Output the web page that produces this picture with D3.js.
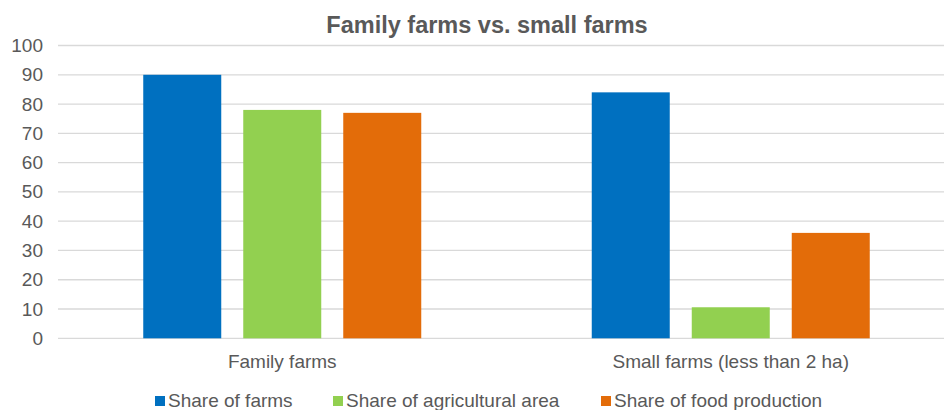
<!DOCTYPE html>
<html>
<head>
<meta charset="utf-8">
<script src="https://cdn.jsdelivr.net/npm/d3@7"></script>
<style>
  body { margin: 0; background: #fff; }
  text { font-family: "Liberation Sans", Arial, sans-serif; fill: #595959; }
</style>
</head>
<body>
<div id="painting"></div>
<script>
// chart data
var categories = ["Family farms", "Small farms (less than 2 ha)"];
var seriesNames = ["Share of farms", "Share of agricultural area", "Share of food production"];
var shareFarms = [90, 84];
var shareArea = [78, 10.6];
var shareFood = [77, 36];
var yTicks = [0, 10, 20, 30, 40, 50, 60, 70, 80, 90, 100];

var colours = ["#0070C0", "#92D050", "#E36C09"];

var w = 944, h = 410;
var plotTop = 45.5, plotBottom = 338.3, plotLeft = 58, plotRight = 955;

var svg = d3.select("#painting")
  .append("svg")
  .attr("width", w)
  .attr("height", h);

var yScale = d3.scaleLinear().domain([0, 100]).range([plotBottom, plotTop]);

var xScale = d3.scaleBand()
  .domain(categories)
  .range([plotLeft, plotRight]);

// bars of 78px with 22px gaps inside each band
var inner = d3.scaleBand()
  .domain(seriesNames)
  .range([0, 278])
  .paddingInner(22 / 100);

var groupOffset = function(c) { return xScale(c) + (xScale.bandwidth() - 278) / 2; };

// gridlines
svg.append("g")
  .selectAll("line")
  .data(yTicks)
  .enter()
  .append("line")
  .attr("x1", plotLeft)
  .attr("x2", plotRight)
  .attr("y1", function(d) { return yScale(d); })
  .attr("y2", function(d) { return yScale(d); })
  .attr("stroke", "#d9d9d9")
  .attr("stroke-width", 1.3);

// y axis labels
var yAxis = d3.axisLeft(yScale).tickValues(yTicks).tickSize(0).tickPadding(0);
var yg = svg.append("g")
  .attr("transform", "translate(43,0)")
  .call(yAxis);
yg.select(".domain").remove();
yg.selectAll("text")
  .style("font-size", "19px")
  .style("font-family", "'Liberation Sans', Arial, sans-serif")
  .attr("fill", "#595959");

var rows = categories.map(function(c, i) {
  return { cat: c, values: [shareFarms[i], shareArea[i], shareFood[i]] };
});

var groups = svg.selectAll("g.group")
  .data(rows)
  .enter()
  .append("g")
  .attr("class", "group")
  .attr("transform", function(d) { return "translate(" + groupOffset(d.cat) + ",0)"; });

groups.selectAll("rect")
  .data(function(d) { return d.values.map(function(v, j) { return { s: seriesNames[j], v: v, j: j }; }); })
  .enter()
  .append("rect")
  .attr("x", function(d) { return inner(d.s); })
  .attr("width", inner.bandwidth())
  .attr("y", function(d) { return yScale(d.v); })
  .attr("height", function(d) { return plotBottom - yScale(d.v); })
  .attr("fill", function(d) { return colours[d.j]; });

// category labels
svg.append("g")
  .selectAll("text")
  .data(categories)
  .enter()
  .append("text")
  .attr("x", function(d) { return groupOffset(d) + 139; })
  .attr("y", 368)
  .attr("text-anchor", "middle")
  .style("font-size", "19px")
  .text(function(d) { return d; });

// title
svg.append("text")
  .attr("x", 487)
  .attr("y", 33)
  .attr("text-anchor", "middle")
  .style("font-size", "23.5px")
  .style("font-weight", "bold")
  .text("Family farms vs. small farms");

// legend
var legendX = [155, 333, 601];
var legend = svg.append("g")
  .selectAll("g")
  .data(seriesNames)
  .enter()
  .append("g")
  .attr("transform", function(d, i) { return "translate(" + legendX[i] + ",0)"; });
legend.append("rect")
  .attr("x", 0)
  .attr("y", 396)
  .attr("width", 10)
  .attr("height", 10)
  .attr("fill", function(d, i) { return colours[i]; });
legend.append("text")
  .attr("x", 13)
  .attr("y", 407)
  .style("font-size", "19px")
  .text(function(d) { return d; });
</script>
</body>
</html>
